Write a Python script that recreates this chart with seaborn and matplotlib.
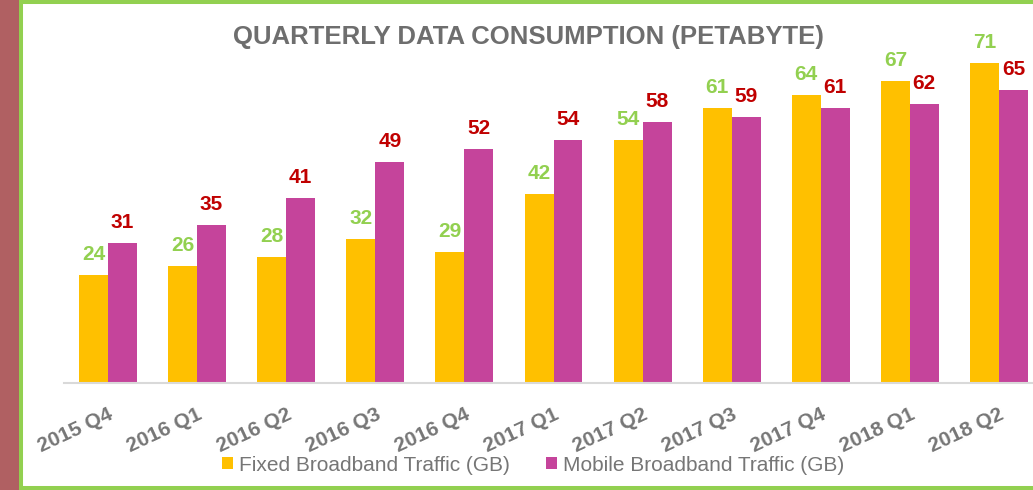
import matplotlib
matplotlib.use("Agg")
import matplotlib.pyplot as plt
from matplotlib.patches import Rectangle
import seaborn as sns
import pandas as pd

# Chart data
quarters = ['2015 Q4', '2016 Q1', '2016 Q2', '2016 Q3', '2016 Q4', '2017 Q1',
            '2017 Q2', '2017 Q3', '2017 Q4', '2018 Q1', '2018 Q2']
fixed = [24, 26, 28, 32, 29, 42, 54, 61, 64, 67, 71]
mobile = [31, 35, 41, 49, 52, 54, 58, 59, 61, 62, 65]
series = ['Fixed Broadband Traffic (GB)', 'Mobile Broadband Traffic (GB)']

df = pd.DataFrame({
    'quarter': quarters * 2,
    'value': fixed + mobile,
    'series': [series[0]] * len(quarters) + [series[1]] * len(quarters),
})

sns.set_style('white')
plt.rcParams['font.family'] = ['Liberation Sans', 'DejaVu Sans']

bar_colors = ['#FFC000', '#C5449B']
label_colors = ['#92D050', '#C00000']
gray = '#767676'

W, H = 1033, 490
fig = plt.figure(figsize=(W / 100, H / 100), dpi=100)

# background: brown strip on left, white panel with green border
fig.patches.append(Rectangle((0, 0), 19 / W, 1, transform=fig.transFigure,
                             facecolor='#B06062', edgecolor='none', zorder=-10))
fig.patches.append(Rectangle((21 / W, 2 / H), 1.05, 486 / H, transform=fig.transFigure,
                             facecolor='white', edgecolor='#92D050', lw=2.9, zorder=-10))

ax = fig.add_axes([63.5 / W, 107 / H, 980 / W, 360 / H])
ax.patch.set_alpha(0)
sns.barplot(data=df, x='quarter', y='value', hue='series', order=quarters,
            hue_order=series, palette=bar_colors, width=0.65, ax=ax,
            legend=True, saturation=1, edgecolor='none')

ax.set_xlim(-0.5, 10.5)
ax.set_ylim(0, 80)
for s in ['top', 'right', 'left']:
    ax.spines[s].set_visible(False)
ax.spines['bottom'].set_color('#D9D9D9')
ax.spines['bottom'].set_linewidth(1.5)
ax.set_yticks([])
ax.set_xlabel('')
ax.set_ylabel('')
ax.tick_params(axis='x', length=0, pad=16)
for lab in ax.get_xticklabels():
    lab.set_rotation(25)
    lab.set_ha('right')
    lab.set_rotation_mode('anchor')
    lab.set_fontsize(15)
    lab.set_fontweight('bold')
    lab.set_color(gray)

# value labels
for cont, col in zip(ax.containers, label_colors):
    ax.bar_label(cont, padding=8, color=col, fontsize=15, fontweight='bold')

handles, labels = ax.get_legend_handles_labels()
ax.get_legend().remove()
fig.legend(handles, labels, loc='center', bbox_to_anchor=(0.516, 0.051), ncol=2,
           frameon=False, fontsize=15, labelcolor=gray, handlelength=0.53,
           handleheight=0.53, handletextpad=0.3, columnspacing=1.7)

fig.text(0.512, 1 - 37 / H, 'QUARTERLY DATA CONSUMPTION (PETABYTE)', ha='center',
         va='center', fontsize=18.5, fontweight='bold', color='#6E6E6E')

fig.savefig('out.png', dpi=100)
